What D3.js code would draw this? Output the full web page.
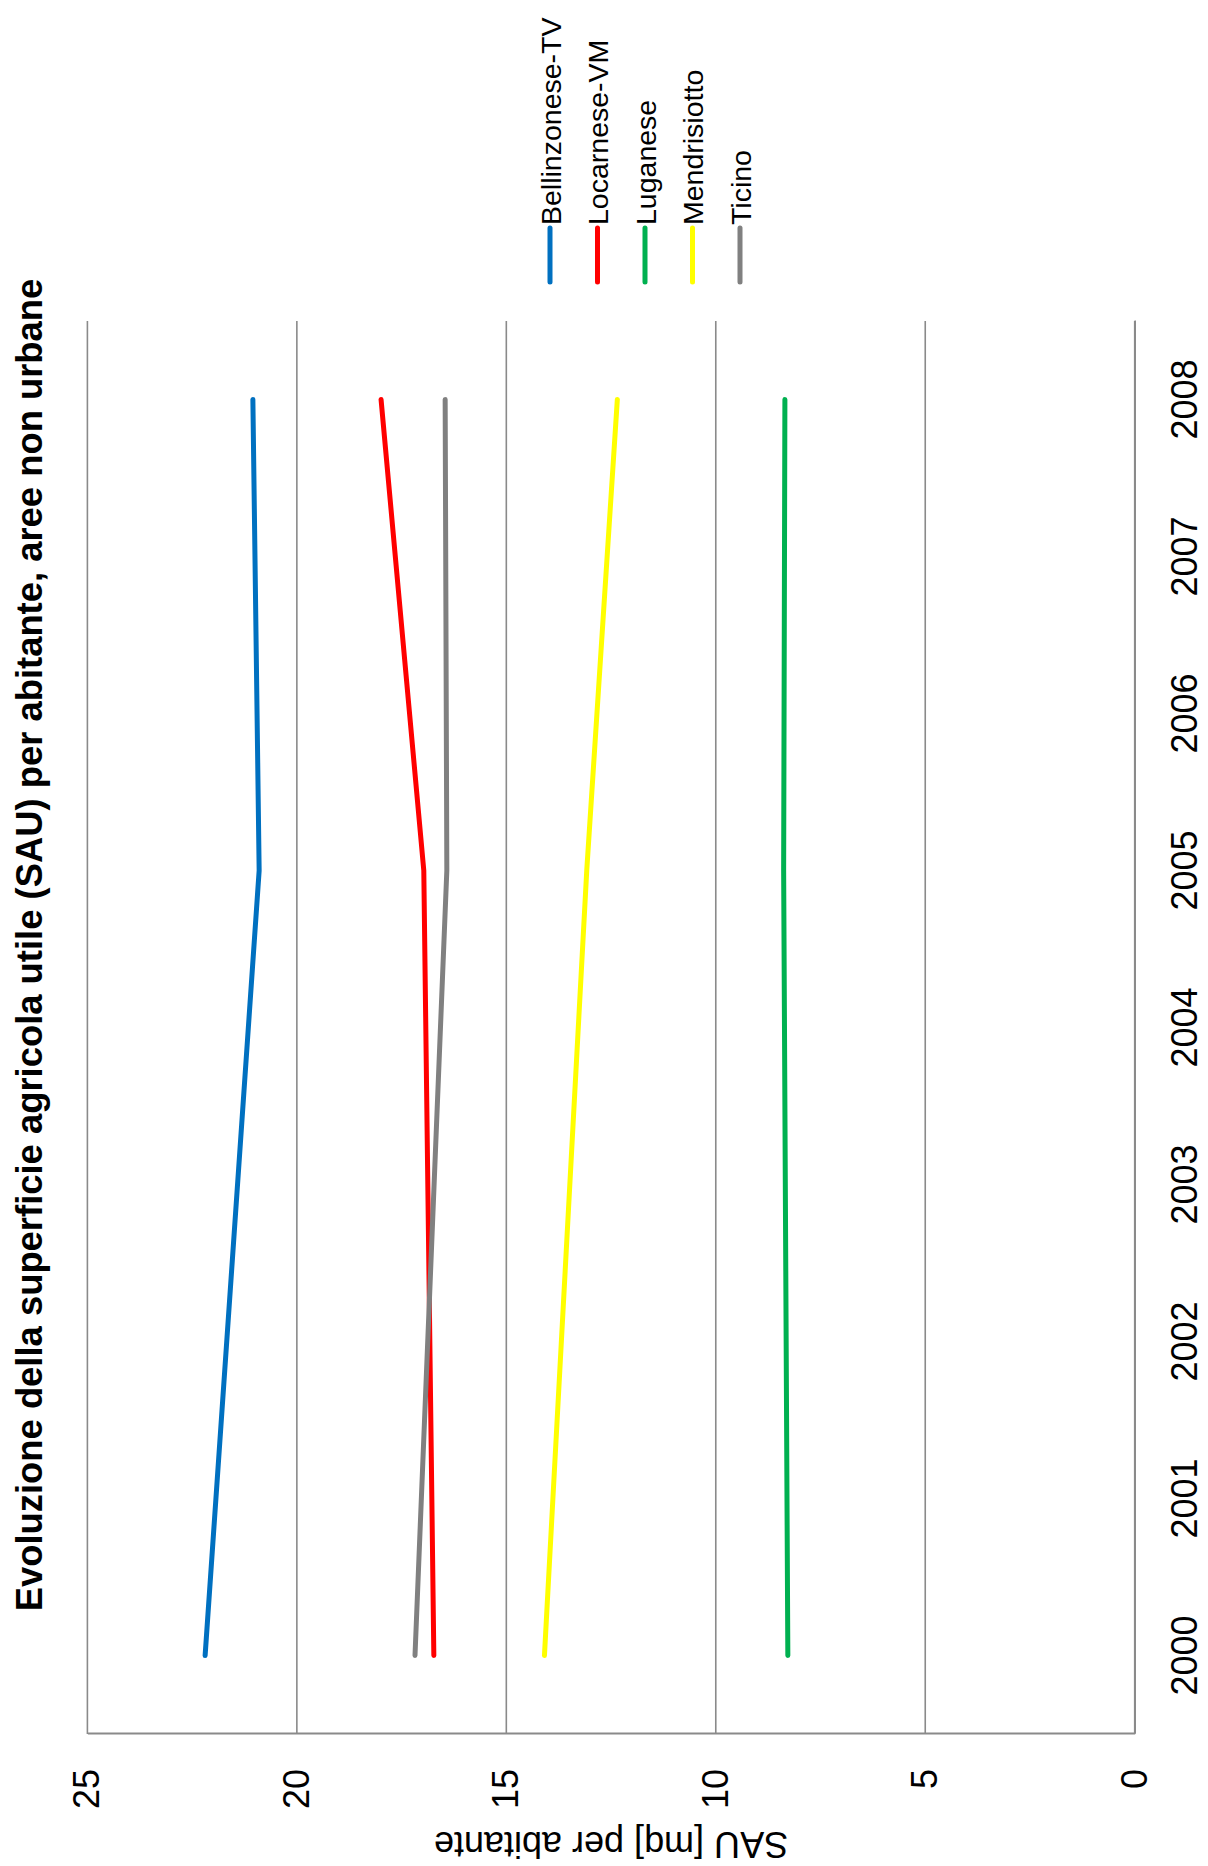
<!DOCTYPE html>
<html>
<head>
<meta charset="utf-8">
<script src="https://cdn.jsdelivr.net/npm/d3@7"></script>
<style>
  html, body { margin: 0; padding: 0; background: #fff; }
  svg { display: block; font-family: "Liberation Sans", Arial, sans-serif; }
</style>
</head>
<body>
<svg id="chart" width="1208" height="1866"></svg>
<script>
// ---- data ----
const years = ["2000", "2001", "2002", "2003", "2004", "2005", "2006", "2007", "2008"];
const seriesNames = ["Bellinzonese-TV", "Locarnese-VM", "Luganese", "Mendrisiotto", "Ticino"];
const seriesColors = ["#0070C0", "#FF0000", "#00B050", "#FFFF00", "#808080"];
const bellinzonese = [22.19, null, null, null, null, 20.90, null, null, 21.05];
const locarnese    = [16.73, null, null, null, null, 16.97, null, null, 17.99];
const luganese     = [8.28,  null, null, null, null, 8.38,  null, null, 8.35];
const mendrisiotto = [14.09, null, null, null, null, 13.08, null, null, 12.35];
const ticino       = [17.18, null, null, null, null, 16.42, null, null, 16.46];
const valueTicks = [0, 5, 10, 15, 20, 25];
const titleText = "Evoluzione della superficie agricola utile (SAU) per abitante, aree non urbane";
const yAxisTitle = "SAU [mq] per abitante";

const seriesValues = [bellinzonese, locarnese, luganese, mendrisiotto, ticino];

// ---- layout (chart drawn unrotated, then rotated -90deg) ----
const W = 1866, H = 1208;
const svg = d3.select("#chart");
const g = svg.append("g").attr("transform", `translate(0,${W}) rotate(-90)`);

const plotLeft = 132, plotRight = 1545, plotTop = 87.4, plotBottom = 1134.7;

const x = d3.scaleBand().domain(years).range([plotLeft, plotRight]).padding(0);
const y = d3.scaleLinear().domain([0, 25]).range([plotBottom, plotTop]);
const cx = d => x(d) + x.bandwidth() / 2;

// gridlines
g.append("g").selectAll("line").data(valueTicks).join("line")
  .attr("x1", plotLeft).attr("x2", plotRight)
  .attr("y1", d => y(d)).attr("y2", d => y(d))
  .attr("stroke", "#8a8a8a").attr("stroke-width", 1.6);

// value axis
const yAxis = g.append("g").attr("transform", `translate(${plotLeft},0)`)
  .call(d3.axisLeft(y).tickValues(valueTicks).tickSize(0).tickPadding(35).tickFormat(d3.format("d")));
yAxis.select(".domain").attr("stroke", "#8a8a8a").attr("stroke-width", 2.2);
yAxis.selectAll("text").attr("font-size", 36).attr("fill", "#000")
  .attr("font-family", "'Liberation Sans', Arial, sans-serif");

// category axis
const xAxis = g.append("g").attr("transform", `translate(0,${plotBottom})`)
  .call(d3.axisBottom(x).tickSize(0).tickPadding(37));
xAxis.select(".domain").attr("stroke", "#8a8a8a").attr("stroke-width", 1.6);
xAxis.selectAll("text").attr("font-size", 36).attr("fill", "#000")
  .attr("font-family", "'Liberation Sans', Arial, sans-serif");

// lines
const line = d3.line().x(d => cx(d.year)).y(d => y(d.value));
seriesValues.forEach((vals, i) => {
  const pts = years.map((yr, j) => ({ year: yr, value: vals[j] })).filter(p => p.value != null);
  g.append("path").datum(pts)
    .attr("d", line)
    .attr("fill", "none")
    .attr("stroke", seriesColors[i])
    .attr("stroke-width", 5)
    .attr("stroke-linecap", "round")
    .attr("stroke-linejoin", "round");
});

// chart title
g.append("text")
  .attr("x", 921).attr("y", 42)
  .attr("text-anchor", "middle")
  .attr("font-size", 36.4).attr("font-weight", "bold")
  .text(titleText);

// axis title
g.append("text")
  .attr("transform", `translate(34,${(plotTop + plotBottom) / 2}) rotate(-90)`)
  .attr("text-anchor", "middle")
  .attr("font-size", 36)
  .text(yAxisTitle);

// legend
const legendV = d3.scalePoint().domain(seriesNames).range([550, 740]);
const legend = g.append("g");
seriesNames.forEach((name, i) => {
  const v = legendV(name);
  legend.append("line")
    .attr("x1", 1584).attr("x2", 1638)
    .attr("y1", v).attr("y2", v)
    .attr("stroke", seriesColors[i]).attr("stroke-width", 5)
    .attr("stroke-linecap", "round");
  legend.append("text")
    .attr("x", 1641).attr("y", v + 10.5)
    .attr("font-size", 28.5)
    .text(name);
});
</script>
</body>
</html>
